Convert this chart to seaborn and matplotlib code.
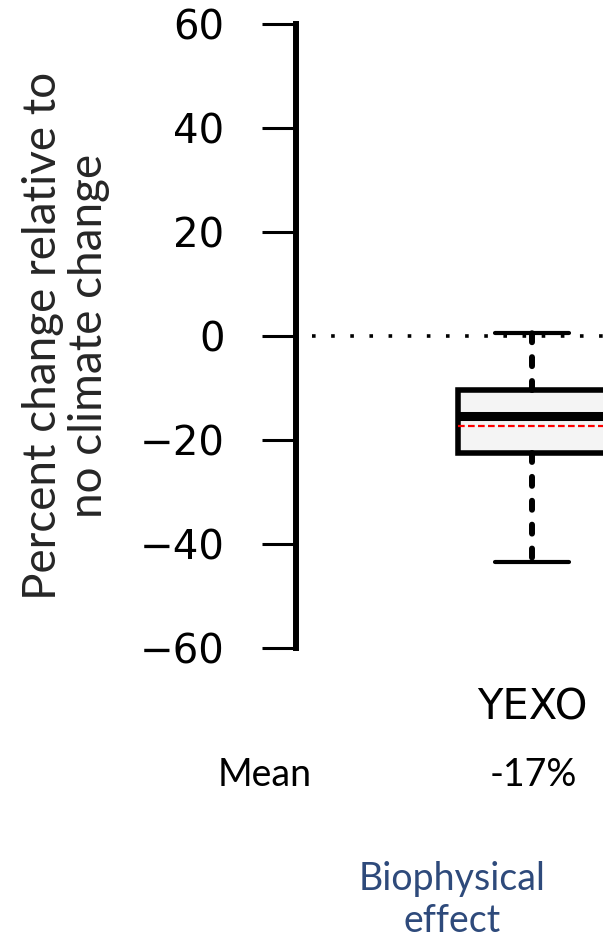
import numpy as np
import pandas as pd
import matplotlib
matplotlib.use("Agg")
import matplotlib.pyplot as plt
import seaborn as sns

# ---- data ----
model_names = ["YEXO"]
change_values = [-43.5, -24.0, -22.5, -18.0, -15.4, -13.0, -9.6, -10.3, 0.6]
y_ticks = [-60, -40, -20, 0, 20, 40, 60]
mean_label = "Mean"
mean_values_text = ["-17%"]
group_label = "Biophysical\neffect"
y_label = "Percent change relative to\nno climate change"

df = pd.DataFrame({"model": model_names * len(change_values), "change": change_values})

sns.set_style("white")
W, H = 603, 943
fig = plt.figure(figsize=(W / 100, H / 100), dpi=100)
ax = fig.add_axes([296 / W, 1 - 648 / H, 1 - 296 / W, (648 - 24) / H])

sns.boxplot(
    data=df, x="model", y="change", ax=ax,
    whis=(0, 100), width=0.482, color="#f4f4f4", saturation=1,
    linecolor="black", linewidth=4.0, showfliers=False,
    showmeans=True, meanline=True,
    meanprops={"color": "red", "linestyle": (0, (3, 1.5)), "linewidth": 1.6},
    medianprops={"color": "black", "linewidth": 6.5, "solid_capstyle": "butt"},
    whiskerprops={"color": "black", "linewidth": 4.3, "linestyle": (0, (1.5, 2.5)),
                  "dash_capstyle": "round"},
    capprops={"color": "black", "linewidth": 3.0, "solid_capstyle": "round"},
)

ax.axhline(0, xmin=(312 - 296) / 307, xmax=1, color="black", lw=2.6,
           ls=(0, (1, 4.3)), zorder=0.5)

ax.set_xlim(-0.769, 0.231)
ax.set_ylim(-60, 60)
ax.set_yticks(y_ticks)
ax.set_yticklabels([("\u2212" if v < 0 else "") + str(abs(v)) for v in y_ticks])

for s in ["top", "right", "bottom"]:
    ax.spines[s].set_visible(False)
ax.spines["left"].set_linewidth(4.3)
ax.spines["left"].set_color("black")

ax.tick_params(axis="y", left=True, length=24.5, width=2.2, pad=27, labelsize=29,
               colors="black")
ax.tick_params(axis="x", bottom=False, length=0, pad=28, labelsize=30, colors="black")
for lab in ax.get_xticklabels() + ax.get_yticklabels():
    lab.set_fontfamily(["DejaVu Sans"])

ax.set_xlabel("")
ax.set_ylabel(y_label, fontsize=33, family=["Lato", "DejaVu Sans"], linespacing=1.12)
ax.yaxis.set_label_coords((110 - 296) / 307, 0.5)

fig.text(265 / W, 1 - 775 / H, mean_label, ha="center", va="center",
         fontsize=27, family=["Lato", "DejaVu Sans"], color="black")
fig.text(533 / W, 1 - 775 / H, mean_values_text[0], ha="center", va="center",
         fontsize=27, family=["Lato", "DejaVu Sans"], color="black")
fig.text(452 / W, 1 - 900 / H, group_label, ha="center", va="center",
         fontsize=27, family=["Lato", "DejaVu Sans"], color="#2E4A7B", linespacing=1.2)

fig.savefig("out.png", dpi=100)
